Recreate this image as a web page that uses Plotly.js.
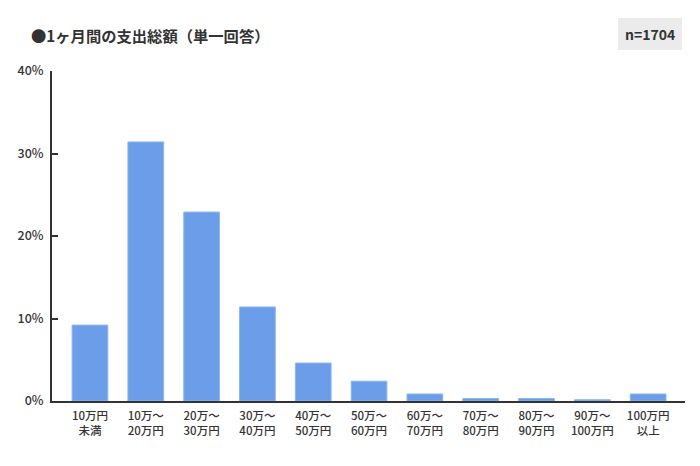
<!DOCTYPE html>
<html>
<head>
<meta charset="utf-8">
<script src="https://cdn.plot.ly/plotly-3.0.1.min.js"></script>
<style>
  html, body { margin: 0; padding: 0; background: #fff; }
  #chart { width: 700px; height: 466px; }
</style>
</head>
<body>
<div id="chart"></div>
<script>
// Spending brackets (x categories) and share of respondents (%)
const categories = [
  '10万円<br>未満', '10万～<br>20万円', '20万～<br>30万円', '30万～<br>40万円',
  '40万～<br>50万円', '50万～<br>60万円', '60万～<br>70万円', '70万～<br>80万円',
  '80万～<br>90万円', '90万～<br>100万円', '100万円<br>以上'
];
const shares = [9.2, 31.4, 22.9, 11.4, 4.6, 2.4, 0.85, 0.3, 0.3, 0.15, 0.85];

const yTickVals = [0, 10, 20, 30, 40];
const yTickText = ['0%', '10%', '20%', '30%', '40%'];

const chartTitle = '●1ヶ月間の支出総額（単一回答）';
const sampleLabel = 'n=1704';

const FONT = '"Noto Sans CJK JP", "Noto Sans", sans-serif';

const barTrace = {
  type: 'bar',
  x: categories.map((_, i) => i),
  y: shares,
  marker: {
    color: '#6b9de8',
    line: { color: '#8fb5ee', width: 1 }
  },
  width: 0.64,
  hoverinfo: 'y'
};

const layout = {
  width: 700,
  height: 466,
  paper_bgcolor: '#ffffff',
  plot_bgcolor: '#ffffff',
  margin: { l: 52, r: 15, t: 71, b: 65 },
  showlegend: false,
  font: { family: FONT, color: '#333333' },
  xaxis: {
    range: [-0.68, 10.66],
    tickvals: categories.map((_, i) => i),
    ticktext: categories,
    showline: true,
    linecolor: '#333333',
    linewidth: 2,
    ticks: '',
    ticklabelstandoff: 3,
    showgrid: false,
    zeroline: false,
    tickfont: { family: FONT, size: 11.5, color: '#333333', weight: 500 },
    fixedrange: true
  },
  yaxis: {
    range: [0, 40],
    tickvals: yTickVals,
    ticktext: yTickText,
    showline: true,
    linecolor: '#333333',
    linewidth: 2,
    ticks: 'inside',
    ticklen: 6,
    tickwidth: 2,
    tickcolor: '#333333',
    ticklabelstandoff: 4,
    showgrid: false,
    zeroline: false,
    tickfont: { family: FONT, size: 12.5, color: '#333333', weight: 500 },
    fixedrange: true
  },
  shapes: [
    {
      type: 'rect', xref: 'paper', yref: 'paper',
      x0: (618 - 52) / 633, x1: (682 - 52) / 633,
      y0: (401 - 50) / 330, y1: (401 - 18) / 330,
      fillcolor: '#ebebeb', line: { width: 0 }, layer: 'below'
    }
  ],
  annotations: [
    {
      text: '<b>' + chartTitle + '</b>',
      xref: 'paper', yref: 'paper',
      x: (29 - 52) / 633, y: (401 - 35) / 330,
      xanchor: 'left', yanchor: 'middle',
      showarrow: false,
      font: { family: FONT, size: 15.3, color: '#333333' }
    },
    {
      text: '<b>' + sampleLabel + '</b>',
      xref: 'paper', yref: 'paper',
      x: (650 - 52) / 633, y: (401 - 34) / 330,
      xanchor: 'center', yanchor: 'middle',
      showarrow: false,
      font: { family: FONT, size: 14, color: '#333333' }
    }
  ]
};

Plotly.newPlot('chart', [barTrace], layout, { displayModeBar: false, staticPlot: true });
</script>
</body>
</html>
